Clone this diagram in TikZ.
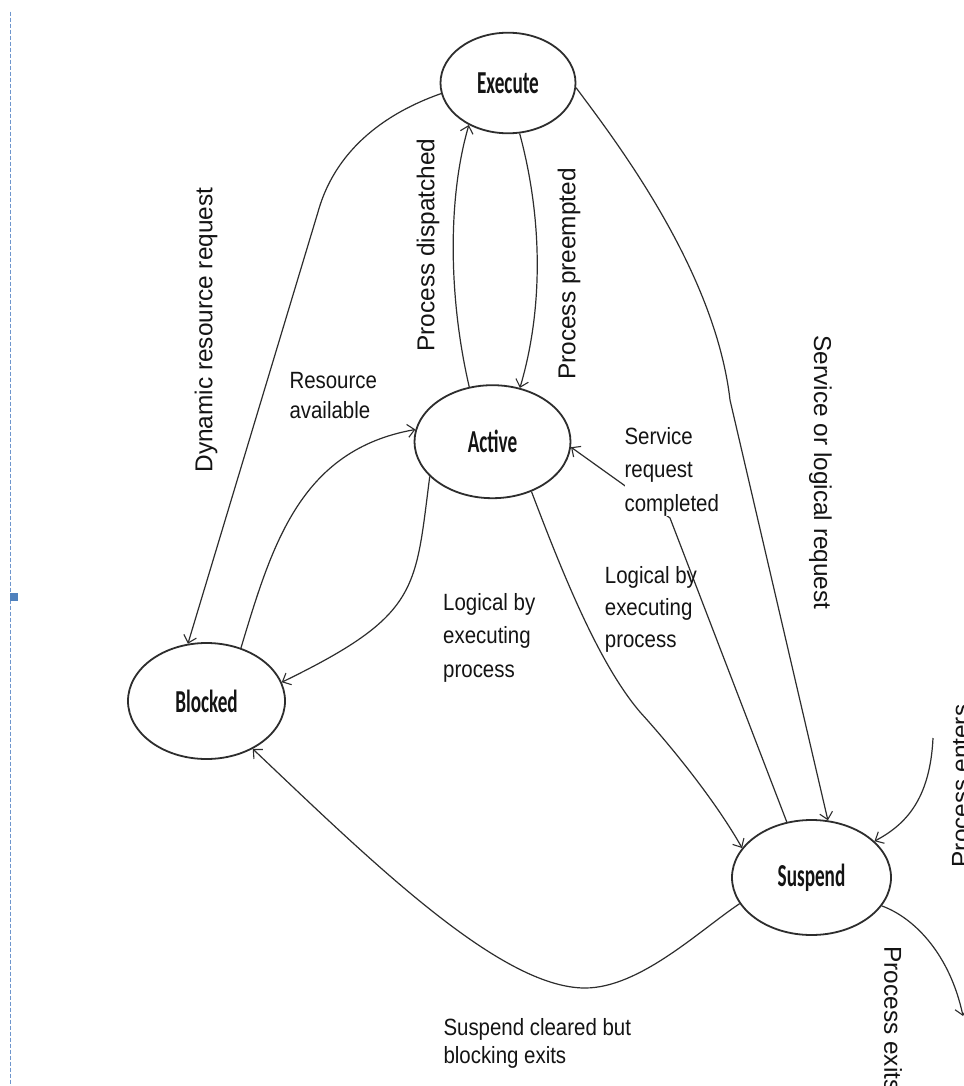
\documentclass[tikz,border=0pt]{standalone}
\usepackage{fontspec}
\setmainfont{Liberation Sans}
\newfontfamily\lblfont[FakeStretch=0.87]{Liberation Sans}
\newfontfamily\statefont[FakeStretch=0.6]{Carlito}
\usetikzlibrary{arrows.meta,shapes.geometric}

\definecolor{ink}{RGB}{45,45,45}
\definecolor{txt}{RGB}{20,20,20}
\definecolor{guide}{RGB}{110,150,205}
\definecolor{marker}{RGB}{79,129,189}

\tikzset{
  stateellipse/.style={ellipse, draw=ink, line width=1.8pt, inner sep=0pt, text=txt,
    font=\statefont\bfseries\fontsize{32}{38}\selectfont},
  conn/.style={draw=ink, line width=1.2pt,
    -{Straight Barb[length=7pt,width=13pt,line width=1.1pt]}},
  hlabel/.style={anchor=north west, inner sep=0pt, align=left, text=txt},
  vlabel/.style={inner sep=0pt, text=txt, font=\fontsize{24.4}{29}\selectfont},
}

\begin{document}
\begin{tikzpicture}[x=1pt,y=-1pt]
  % page
  \fill[white] (0,0) rectangle (963,1086);
  \useasboundingbox (0,0) rectangle (963,1086);

  % margin guide with its handle
  \coordinate (gtop) at (10,11.7);
  \coordinate (gbot) at (10,1086);
  \draw[guide, line width=1pt, dash pattern=on 4pt off 2pt] (gtop) -- (gbot);
  \fill[marker] (10,592.7) rectangle (18.3,600.7);

  % process states
  \node[stateellipse, minimum width=135pt, minimum height=100.6pt] (ex) at (508,83) {Execute};
  \node[stateellipse, minimum width=156pt, minimum height=113pt] (ac) at (492.5,441.7) {Active};
  \node[stateellipse, minimum width=157pt, minimum height=116pt] (bl) at (206.5,701) {Blocked};
  \node[stateellipse, minimum width=159pt, minimum height=115pt] (su) at (811.5,877.5) {Suspend};

  % transitions
  \draw[conn] (ex.189) .. controls (400,108) and (338,140) .. (318,212) -- (bl.108);
  \draw[conn] (ac.113) .. controls (449,300) and (447,200) .. (ex.227);
  \draw[conn] (ex.283) .. controls (543,220) and (543,310) .. (ac.63);
  \draw[conn] (bl.57) .. controls (272,545) and (300,450) .. (ac.171);
  \draw[conn] (ac.209) .. controls (415,590) and (420,615) .. (bl.14);
  \draw[conn] (ac.308) .. controls (565,580) and (600,665) .. (640,712)
                       .. controls (670,745) and (715,800) .. (su.157);
  \draw[conn] (su.114) -- (670,518) -- (ac.356);
  \draw[conn] (ex.356) .. controls (615,140) and (715,270) .. (730,400) -- (su.74);
  \draw[conn] (su.200) .. controls (700,930) and (640,988) .. (585,988)
                       .. controls (500,988) and (370,860) .. (bl.314);
  \coordinate (pin) at (933,738);
  \draw[conn] (pin) .. controls (930,800) and (905,825) .. (su.30);
  \coordinate (pout) at (963,1016);
  \draw[conn] (su.338) .. controls (915,918) and (950,955) .. (pout);

  % horizontal labels
  \node[hlabel, font=\lblfont\fontsize{23.5}{30}\selectfont] (lres) at (289.3,371.7)
    {Resource\\available};
  \node[hlabel, fill=white, font=\lblfont\fontsize{23.5}{33.5}\selectfont] (lsrv) at (624.4,427)
    {Service\\request\\completed};
  \node[hlabel, font=\lblfont\fontsize{23.5}{33.3}\selectfont] (llogA) at (443,593.3)
    {Logical by\\executing\\process};
  \node[hlabel, font=\lblfont\fontsize{23.5}{32}\selectfont] (llogB) at (604.7,566.7)
    {Logical by\\executing\\process};
  \node[hlabel, font=\lblfont\fontsize{23.5}{28.3}\selectfont] (lsus) at (443.3,1018.3)
    {Suspend cleared but\\blocking exits};

  % rotated labels
  \node[vlabel, rotate=90] (ldyn) at (206,330) {Dynamic resource request};
  \node[vlabel, rotate=90] (ldis) at (428,245) {Process dispatched};
  \node[vlabel, rotate=90] (lpre) at (569,274) {Process preempted};
  \node[vlabel, rotate=-90] (lsvc) at (820.5,472.5) {Service or logical request};
  \node[vlabel, rotate=90] (lent) at (960.5,786) {Process enters};
  \node[vlabel, rotate=-90] (lext) at (893,1019) {Process exits};
\end{tikzpicture}
\end{document}
